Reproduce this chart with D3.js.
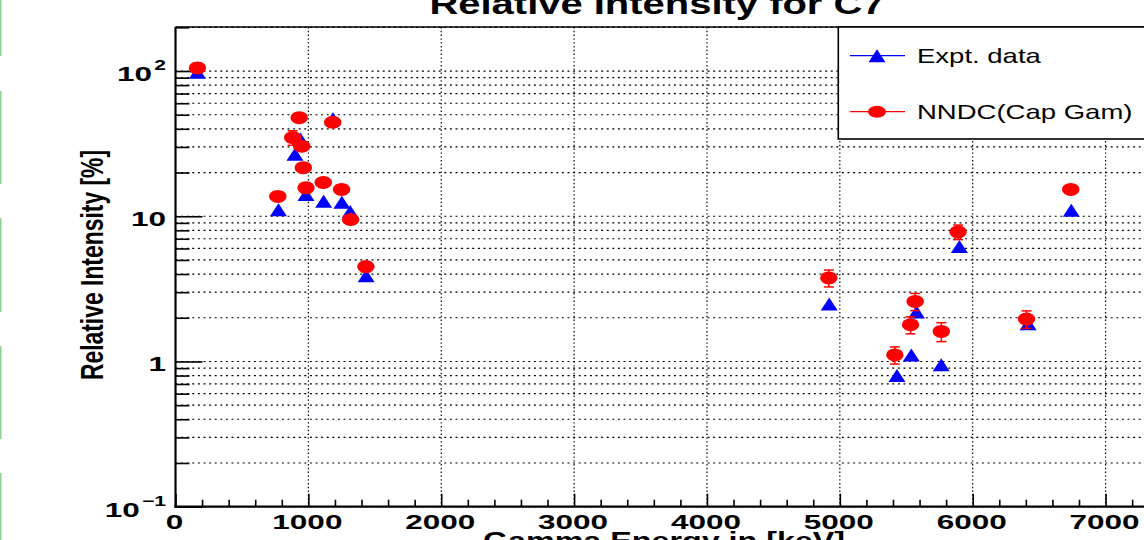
<!DOCTYPE html>
<html>
<head>
<meta charset="utf-8">
<script src="https://cdn.jsdelivr.net/npm/d3@7"></script>
<style>
  html, body { margin: 0; padding: 0; background: #fff; overflow: hidden; }
  svg { display: block; font-family: "Liberation Sans", Arial, Helvetica, sans-serif; }
</style>
</head>
<body>
<div id="chart"></div>
<script>
// Values (keV, relative intensity in %)
const expEnergy = [165, 775, 899, 940, 982, 1115, 1185, 1252, 1315, 1435,
  4920, 5430, 5538, 5577, 5763, 5900, 6417, 6742];
const expIntensity = [98, 11.1, 26.7, 34, 14.1, 12.7, 47, 12.5, 10.8, 3.9,
  2.49, 0.80, 1.11, 2.19, 0.95, 6.2, 1.82, 11.0];

const nndcEnergy = [165, 770, 882, 931, 950, 962, 982, 1112, 1183, 1250, 1318, 1433,
  4917, 5414, 5532, 5567, 5764, 5890, 6405, 6738];
const nndcIntensity = [105, 13.7, 34.8, 47.7, 30.4, 21.6, 15.7, 17.1, 44.4, 15.3, 9.5, 4.5,
  3.76, 1.11, 1.79, 2.59, 1.61, 7.8, 1.96, 15.3];
const nndcError = [8, 1.0, 4.0, 3.0, 2.0, 1.5, 1.2, 1.2, 3.0, 1.1, 0.7, 0.35,
  0.5, 0.15, 0.24, 0.35, 0.24, 0.9, 0.27, 0.8];

const xMajor = [0, 1000, 2000, 3000, 4000, 5000, 6000, 7000];
const yMajor = [0.1, 1, 10, 100];
const yLabels = [["10", "\u22121"], ["1", null], ["10", null], ["10", "2"]];

const legendItems = [
  { label: "Expt. data", color: "#0000ff", shape: "triangle" },
  { label: "NNDC(Cap Gam)", color: "#ff0000", shape: "circle" }
];

const title = "Relative Intensity for C7";
const xTitle = "Gamma Energy in [keV]";
const yTitle = "Relative Intensity [%]";

// left-edge strip segments seen in the screenshot
const stripSegments = [[0, 56], [91, 184], [218, 312], [346, 439], [473, 540]];

const width = 1144;
const height = 540;
const margin = { top: 27, left: 175.5, bottom: 33.3 };
const plotBottom = height - margin.bottom;
const plotRight = 1172;
const sxTick = 1.5;   // picture is stretched horizontally
const sxText = 1.35;

const svg = d3.select("#chart")
  .append("svg")
  .attr("width", width)
  .attr("height", height);

const x = d3.scaleLinear().domain([0, 7500]).range([margin.left, plotRight]);
const y = d3.scaleLog().domain([0.1, 201]).range([plotBottom, margin.top]);

svg.append("g")
  .selectAll("line")
  .data(stripSegments)
  .join("line")
  .attr("x1", 0.75).attr("x2", 0.75)
  .attr("y1", (d) => d[0]).attr("y2", (d) => d[1])
  .attr("stroke", "#8fd08f")
  .attr("stroke-width", 1.5);

// grid
const yTicksAll = y.ticks();
svg.append("g")
  .selectAll("line")
  .data(yTicksAll)
  .join("line")
  .attr("x1", margin.left).attr("x2", plotRight)
  .attr("y1", (d) => y(d)).attr("y2", (d) => y(d))
  .attr("stroke", "#000")
  .attr("stroke-width", 1.2)
  .attr("stroke-dasharray", "2,3.6");

svg.append("g")
  .selectAll("line")
  .data(xMajor.slice(1))
  .join("line")
  .attr("x1", (d) => x(d)).attr("x2", (d) => x(d))
  .attr("y1", margin.top).attr("y2", plotBottom)
  .attr("stroke", "#000")
  .attr("stroke-width", 1.2)
  .attr("stroke-dasharray", "1.4,2.4");

// axes (ticks pointing inward)
const xMinor = d3.range(0, 7501, 200).filter((v) => v % 1000 !== 0);
svg.append("g")
  .attr("transform", `translate(0,${plotBottom})`)
  .call(d3.axisBottom(x).tickValues(xMinor).tickSize(-7).tickFormat(""))
  .call((g) => g.select(".domain").remove());
svg.append("g")
  .attr("transform", `translate(0,${plotBottom})`)
  .call(d3.axisBottom(x).tickValues(xMajor).tickSize(-13).tickFormat(""))
  .call((g) => g.select(".domain").remove());

const yMinor = yTicksAll.filter((v) => !yMajor.some((m) => Math.abs(m - v) < 1e-9));
svg.append("g")
  .attr("transform", `translate(${margin.left},0)`)
  .call(d3.axisLeft(y).tickValues(yMinor).tickSize(-14).tickFormat(""))
  .call((g) => g.select(".domain").remove());
svg.append("g")
  .attr("transform", `translate(${margin.left},0)`)
  .call(d3.axisLeft(y).tickValues(yMajor).tickSize(-27).tickFormat(""))
  .call((g) => g.select(".domain").remove());

svg.selectAll(".tick line").attr("stroke", "#000").attr("stroke-width", 1.6);

// frame
svg.append("line")
  .attr("x1", margin.left).attr("x2", plotRight + 10)
  .attr("y1", margin.top).attr("y2", margin.top)
  .attr("stroke", "#000").attr("stroke-width", 1.6);
svg.append("line")
  .attr("x1", margin.left).attr("x2", margin.left)
  .attr("y1", margin.top).attr("y2", plotBottom + 1)
  .attr("stroke", "#000").attr("stroke-width", 2.2);
svg.append("line")
  .attr("x1", margin.left - 1).attr("x2", plotRight + 10)
  .attr("y1", plotBottom).attr("y2", plotBottom)
  .attr("stroke", "#000").attr("stroke-width", 2.2);

// tick labels
svg.append("g")
  .selectAll("text")
  .data(xMajor)
  .join("text")
  .attr("transform", (d) => `translate(${x(d) - 1},528.5) scale(${sxTick},1)`)
  .attr("text-anchor", "middle")
  .attr("font-weight", "bold")
  .attr("font-size", 21)
  .text((d) => d);

const yLab = svg.append("g")
  .selectAll("text")
  .data(yMajor)
  .join("text")
  .attr("transform", (d) => `translate(166,${y(d) + 10}) scale(${sxTick},1)`)
  .attr("text-anchor", "end")
  .attr("font-weight", "bold")
  .attr("font-size", 21);
yLab.each(function (d, i) {
  const [base, exp] = yLabels[i];
  const t = d3.select(this);
  t.append("tspan").text(base);
  if (exp) {
    t.append("tspan")
      .attr("font-size", 14)
      .attr("dx", 1.5)
      .attr("dy", -11)
      .text(exp);
  }
});

// titles
svg.append("text")
  .attr("transform", `translate(657,14) scale(${sxText},1)`)
  .attr("text-anchor", "middle")
  .attr("font-weight", "bold")
  .attr("font-size", 29.6)
  .text(title);

svg.append("text")
  .attr("transform", `translate(664,549) scale(${sxText},1)`)
  .attr("text-anchor", "middle")
  .attr("font-weight", "bold")
  .attr("font-size", 23.9)
  .text(xTitle);

svg.append("text")
  .attr("transform", `translate(103.3,265) scale(${sxText},1) rotate(-90)`)
  .attr("text-anchor", "middle")
  .attr("font-weight", "bold")
  .attr("font-size", 22.9)
  .text(yTitle);

// markers
const triPath = "M0,-6.5L8.5,6.5L-8.5,6.5Z";

svg.append("g")
  .selectAll("path")
  .data(expEnergy.map((e, i) => ({ e, v: expIntensity[i] })))
  .join("path")
  .attr("d", triPath)
  .attr("transform", (d) => `translate(${x(d.e)},${y(d.v)})`)
  .attr("fill", "#0000ff");

const nndc = nndcEnergy.map((e, i) => ({ e, v: nndcIntensity[i], err: nndcError[i] }));

const errG = svg.append("g")
  .selectAll("g")
  .data(nndc)
  .join("g")
  .attr("stroke", "#ff0000")
  .attr("stroke-width", 1.5);
errG.append("line")
  .attr("x1", (d) => x(d.e)).attr("x2", (d) => x(d.e))
  .attr("y1", (d) => y(d.v - d.err)).attr("y2", (d) => y(d.v + d.err));
errG.append("line")
  .attr("x1", (d) => x(d.e) - 5).attr("x2", (d) => x(d.e) + 5)
  .attr("y1", (d) => y(d.v - d.err)).attr("y2", (d) => y(d.v - d.err));
errG.append("line")
  .attr("x1", (d) => x(d.e) - 5).attr("x2", (d) => x(d.e) + 5)
  .attr("y1", (d) => y(d.v + d.err)).attr("y2", (d) => y(d.v + d.err));

svg.append("g")
  .selectAll("ellipse")
  .data(nndc)
  .join("ellipse")
  .attr("cx", (d) => x(d.e))
  .attr("cy", (d) => y(d.v))
  .attr("rx", 8.75)
  .attr("ry", 6.5)
  .attr("fill", "#ff0000");

// legend
const legend = svg.append("g");
legend.append("rect")
  .attr("x", 838.3).attr("y", margin.top)
  .attr("width", 340).attr("height", 112)
  .attr("fill", "#fff")
  .attr("stroke", "#000")
  .attr("stroke-width", 1.6);

const rows = legend.selectAll("g.row")
  .data(legendItems)
  .join("g")
  .attr("class", "row")
  .attr("transform", (d, i) => `translate(0,${55.7 + i * 56})`);
rows.append("line")
  .attr("x1", 850).attr("x2", 905)
  .attr("stroke", (d) => d.color)
  .attr("stroke-width", 1.2);
rows.filter((d) => d.shape === "triangle")
  .append("path")
  .attr("d", triPath)
  .attr("transform", "translate(877,0)")
  .attr("fill", (d) => d.color);
rows.filter((d) => d.shape === "circle")
  .append("ellipse")
  .attr("cx", 877).attr("rx", 9).attr("ry", 6)
  .attr("fill", (d) => d.color);
rows.append("text")
  .attr("transform", `translate(917,7) scale(1.31,1)`)
  .attr("font-size", 21)
  .text((d) => d.label);
</script>
</body>
</html>
